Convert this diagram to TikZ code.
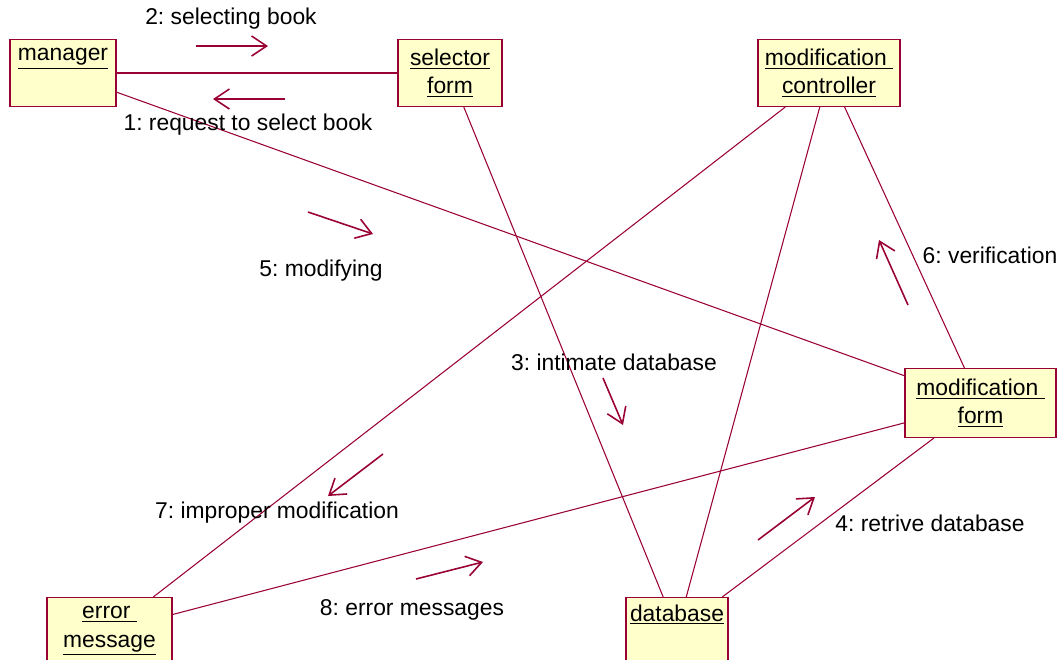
\documentclass[tikz,border=0pt]{standalone}
\usepackage{fontspec}
\setmainfont{Liberation Sans}
\usetikzlibrary{arrows.meta}
\frenchspacing

\definecolor{rosered}{RGB}{153,0,51}
\definecolor{notefill}{RGB}{255,255,204}

\tikzset{
  obj/.style={draw=rosered, fill=notefill, line width=0.6pt, align=center,
    minimum height=1.34cm, inner sep=0pt, font=\fontsize{13}{16}\selectfont},
  link/.style={draw=rosered, line width=0.6pt},
  msg/.style={draw=rosered, line width=0.9pt, -{Straight Barb[length=3mm,width=4mm]}},
  lbl/.style={font=\fontsize{13}{16}\selectfont, inner sep=0pt}
}

\begin{document}
\begin{tikzpicture}[x=0.02cm, y=-0.02cm]

  \useasboundingbox (0,0) rectangle (1063,660);
  \clip (0,0) rectangle (1063,660);

  % Draw the objects
  \node[obj, minimum width=2.12cm] (manager) at (63, 73) {\underline{manager}\\\strut};
  \node[obj, minimum width=2.08cm] (selector) at (450, 73) {\underline{selector}\\\underline{form}};
  \node[obj, minimum width=2.84cm] (controller) at (829, 73) {\underline{modification\ }\\\underline{controller}};
  \node[obj, minimum width=3.02cm, minimum height=1.38cm] (modform) at (980.5, 403) {\underline{modification\ }\\\underline{form}};
  \node[obj, minimum width=2.5cm] (errmsg) at (109.5, 631) {\underline{error\ }\\\underline{message}};
  \node[obj, minimum width=2.04cm] (database) at (677, 631) {\underline{database}\\\strut};

  % Draw the links
  \draw[link] (manager) -- (selector);
  \draw[link] (manager) -- (modform);
  \draw[link] (selector) -- (database);
  \draw[link] (controller) -- (errmsg);
  \draw[link] (controller) -- (database);
  \draw[link] (controller) -- (modform);
  \draw[link] (modform) -- (errmsg);
  \draw[link] (modform) -- (database);

  % Messages
  \draw[msg] (196, 46) -- (268, 46);
  \node[lbl] (m2) at (231, 19) {2: selecting book};
  \draw[msg] (285, 99) -- (213, 99);
  \node[lbl] (m1) at (248, 125) {1: request to select book};
  \draw[msg] (308, 212) -- (373, 234);
  \node[lbl] (m5) at (321, 271) {5: modifying};
  \draw[msg] (603, 378) -- (623, 425);
  \node[lbl] (m3) at (614, 362) {3: intimate database};
  \draw[msg] (758, 540) -- (815, 497);
  \node[lbl] (m4) at (930, 523) {4: retrive database};
  \draw[msg] (908, 305) -- (879, 240);
  \node[lbl] (m6) at (990, 255) {6: verification};
  \draw[msg] (383, 454) -- (328, 496);
  \node[lbl] (m7) at (277, 513) {7: improper modification};
  \draw[msg] (416, 579) -- (483, 562);
  \node[lbl] (m8) at (412, 610) {8: error messages};

\end{tikzpicture}
\end{document}
